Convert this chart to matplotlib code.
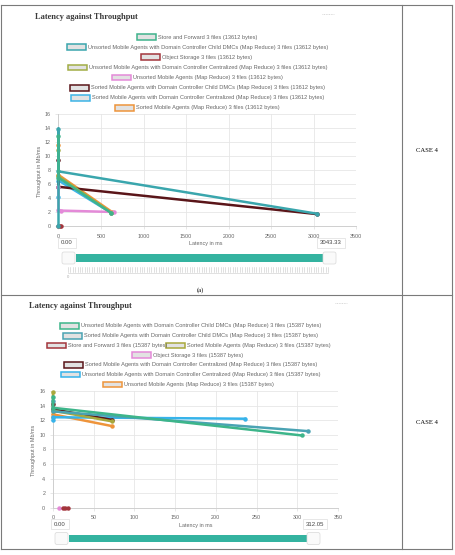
import numpy as np
import matplotlib.pyplot as plt
from matplotlib.patches import Rectangle, FancyBboxPatch

W, H = 455, 555

# ---- chart (a): 13612 bytes ----
labels_a = [
    "Store and Forward 3 files (13612 bytes)",
    "Unsorted Mobile Agents with Domain Controller Child DMCs (Map Reduce) 3 files (13612 bytes)",
    "Object Storage 3 files (13612 bytes)",
    "Unsorted Mobile Agents with Domain Controller Centralized (Map Reduce) 3 files (13612 bytes)",
    "Unsorted Mobile Agents (Map Reduce) 3 files (13612 bytes)",
    "Sorted Mobile Agents with Domain Controller Child DMCs (Map Reduce) 3 files (13612 bytes)",
    "Sorted Mobile Agents with Domain Controller Centralized (Map Reduce) 3 files (13612 bytes)",
    "Sorted Mobile Agents (Map Reduce) 3 files (13612 bytes)",
]
colors_a = ["#3fb38c", "#3aa6ad", "#a3353c", "#a2ad45", "#e48ad8", "#5a1519", "#3db4e6", "#ee943b"]
lat_a = [[0, 0, 615], [0, 0, 0, 3043], [0, 15, 35], [0, 0, 620], [0, 0, 30, 650],
         [0, 0, 3043], [0, 0, 618], [0, 0, 630]]
thr_a = [[12.8, 6.9, 1.9], [0.0, 13.9, 7.8, 1.75], [0.0, 0.0, 0.0], [10.8, 7.1, 1.9],
         [5.6, 2.3, 2.2, 2.0], [9.5, 5.6, 1.7], [4.2, 6.5, 1.9], [11.6, 7.3, 2.0]]

# ---- chart (b): 15387 bytes ----
labels_b = [
    "Unsorted Mobile Agents with Domain Controller Child DMCs (Map Reduce) 3 files (15387 bytes)",
    "Sorted Mobile Agents with Domain Controller Child DMCs (Map Reduce) 3 files (15387 bytes)",
    "Store and Forward 3 files (15387 bytes)",
    "Sorted Mobile Agents (Map Reduce) 3 files (15387 bytes)",
    "Object Storage 3 files (15387 bytes)",
    "Sorted Mobile Agents with Domain Controller Centralized (Map Reduce) 3 files (15387 bytes)",
    "Unsorted Mobile Agents with Domain Controller Centralized (Map Reduce) 3 files (15387 bytes)",
    "Unsorted Mobile Agents (Map Reduce) 3 files (15387 bytes)",
]
colors_b = ["#3db58a", "#4aa3b3", "#a3353c", "#a8a83c", "#e48ad8", "#5a1519", "#36b3ea", "#ee943b"]
lat_b = [[0, 0, 306], [0, 0, 313], [12, 15, 18], [0, 0, 72], [7],
         [0, 0, 72], [0, 0, 236], [0, 0, 72]]
thr_b = [[15.2, 13.7, 9.9], [14.6, 13.2, 10.5], [0.0, 0.0, 0.0], [15.8, 13.3, 11.85], [0.0],
         [14.2, 13.5, 12.05], [12.0, 12.4, 12.2], [12.4, 12.8, 11.2]]

sans = "Liberation Sans"
serif = "Liberation Serif"
grey = "#666666"

fig = plt.figure(figsize=(W / 100, H / 100), dpi=100)
ov = fig.add_axes([0, 0, 1, 1])
ov.set_xlim(0, W)
ov.set_ylim(H, 0)
ov.axis("off")


def chart_axes(l, t, r, b):
    return fig.add_axes([l / W, 1 - b / H, (r - l) / W, (b - t) / H])


def draw_chart(ax, lat, thr, colors, xmax, xstep):
    # Chart.js paints the first dataset on top
    n = len(lat)
    for i, (x, y, c) in enumerate(zip(lat, thr, colors)):
        ax.plot(x, y, color=c, lw=1.8, marker="o", ms=2.2, clip_on=False, zorder=3 + n - i)
    ax.set_xlim(0, xmax)
    ax.set_ylim(0, 16)
    ax.set_xticks(np.arange(0, xmax + 1, xstep))
    ax.set_yticks(np.arange(0, 17, 2))
    ax.grid(color="#e6e6e6", lw=0.6)
    ax.set_axisbelow(True)
    for s in ["top", "right"]:
        ax.spines[s].set_visible(False)
    for s in ["left", "bottom"]:
        ax.spines[s].set_color("#cfcfcf")
        ax.spines[s].set_linewidth(0.7)
    ax.tick_params(labelsize=3.9, colors=grey, length=2.5, width=0.5, pad=3)
    ax.tick_params(color="#dddddd")
    for lab in ax.get_xticklabels() + ax.get_yticklabels():
        lab.set_fontfamily(sans)


def legend_row(x, y, color, text):
    ov.add_patch(Rectangle((x, y - 2.8), 18.5, 5.6, facecolor="#e2e2e2",
                           edgecolor=color, lw=1.1))
    ov.text(x + 21, y, text, fontsize=4.05, family=sans, color=grey, va="center", ha="left")


def slider(x0, x1, y, lo, hi, lbl_y):
    ov.add_patch(Rectangle((x0 + 8, y - 3.8), x1 - x0 - 8, 7.6, facecolor="#34b3a0",
                           edgecolor="none"))
    for hx in (x0, x1):
        ov.add_patch(FancyBboxPatch((hx - 6, y - 6), 13, 12,
                                    boxstyle="round,pad=0,rounding_size=2",
                                    facecolor="#fafafa", edgecolor="#d8d8d8", lw=0.5))
    for hx, txt in ((x0 - 1, lo), (x1 + 2, hi)):
        ov.text(hx, lbl_y, txt, fontsize=4.3, family=sans, color="#444444",
                ha="center", va="center",
                bbox=dict(boxstyle="square,pad=0.5", fc="white", ec="#dddddd", lw=0.5))


# table lines
for xs, ys in [((1, 452), (5, 5)), ((1, 452), (295, 295)), ((1, 452), (549, 549)),
               ((1, 1), (5, 549)), ((402, 402), (5, 549)), ((452, 452), (5, 549))]:
    ov.plot(xs, ys, color="#7a7a7a", lw=0.8)
ov.text(427, 150, "CASE 4", fontsize=4.8, family=serif, ha="center", va="center")
ov.text(427, 422, "CASE 4", fontsize=4.8, family=serif, ha="center", va="center")

# ---- chart (a) ----
ov.text(35, 17, "Latency against Throughput", fontsize=6, family=serif, weight="bold",
        color="#3a3a3a", va="center")
ov.plot([322, 334], [14, 14], color="#cccccc", lw=0.6, ls=(0, (1, 1)))
rows_a = [(137, 37), (67, 47), (141, 57), (68, 67.5), (112, 77.5), (70, 88), (71, 98), (115, 108)]
for (x, y), c, t in zip(rows_a, colors_a, labels_a):
    legend_row(x, y, c, t)

ax1 = chart_axes(58.5, 114, 356, 226)
draw_chart(ax1, lat_a, thr_a, colors_a, 3500, 500)
ov.text(40, 171, "Throughput in Mb/ms", fontsize=3.9, family=sans, color=grey,
        rotation=90, ha="center", va="center")
ov.text(206, 244, "Latency in ms", fontsize=3.9, family=sans, color=grey,
        ha="center", va="center")
slider(68, 329, 258, "0.00", "3043.33", 243)
for tx in np.linspace(68, 328, 110):
    ov.plot([tx, tx], [267, 272], color="#c8c8c8", lw=0.4)
ov.plot([68, 328], [272.5, 272.5], color="#d5d5d5", lw=0.5)
ov.text(68, 276.5, "0", fontsize=3, family=sans, color="#aaaaaa", ha="center", va="center")
ov.text(200, 290, "(a)", fontsize=4.8, family=serif, ha="center", va="center")

# ---- chart (b) ----
ov.text(29, 306, "Latency against Throughput", fontsize=6, family=serif, weight="bold",
        color="#3a3a3a", va="center")
ov.plot([335, 347], [303, 303], color="#cccccc", lw=0.6, ls=(0, (1, 1)))
rows_b = [(60, 326), (63, 335.7), (47, 345.3), (166, 345.3), (132, 355), (64, 364.7),
          (61, 374.3), (103, 384.3)]
for (x, y), c, t in zip(rows_b, colors_b, labels_b):
    legend_row(x, y, c, t)

ax2 = chart_axes(53, 391, 338, 507.7)
draw_chart(ax2, lat_b, thr_b, colors_b, 350, 50)
ov.text(33, 450, "Throughput in Mb/ms", fontsize=3.9, family=sans, color=grey,
        rotation=90, ha="center", va="center")
ov.text(196, 525, "Latency in ms", fontsize=3.9, family=sans, color=grey,
        ha="center", va="center")
slider(61, 313, 538.5, "0.00", "312.05", 524)

fig.savefig("out.png", dpi=100)
